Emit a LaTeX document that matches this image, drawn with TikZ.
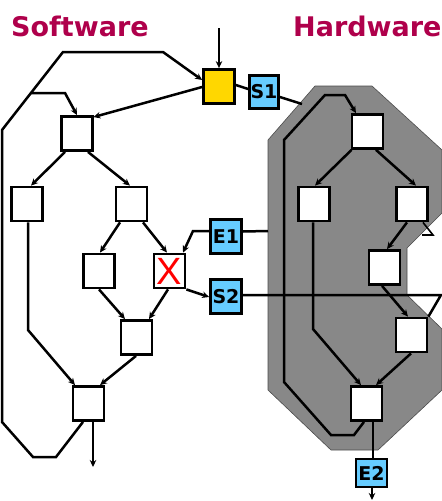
\documentclass[tikz,border=0pt]{standalone}
\usepackage{fontspec}
\setmainfont{DejaVu Sans}
\newfontfamily\xfont{Liberation Sans}
\usetikzlibrary{arrows.meta}
\definecolor{titlered}{RGB}{175,0,75}
\definecolor{boxblue}{RGB}{102,204,255}
\definecolor{boxyellow}{RGB}{255,215,0}
\definecolor{hwgray}{RGB}{136,136,136}
\tikzset{
  blk/.style={draw=black, line width=2.8pt, fill=white, inner sep=0pt, minimum width=31pt, minimum height=34pt},
  sig/.style={blk, fill=boxblue, font=\bfseries\fontsize{19}{20}\selectfont},
  conn/.style={line width=2.5pt, line join=miter},
  arr/.style={conn, -{Stealth[length=7pt,width=6.5pt]}},
  ttl/.style={text=titlered, font=\bfseries\fontsize{27}{30}\selectfont, inner sep=0pt, anchor=base west}
}
\begin{document}
\begin{tikzpicture}[x=1pt,y=-1pt]
\useasboundingbox (0,0) rectangle (442,501);
% hardware region
\path[fill=hwgray, draw=black!70, line width=0.6pt]
 (315,86) -- (372,86) -- (442,150) -- (442,213) -- (407,248) -- (407,295) -- (442,329)
 -- (442,390) -- (378,450) -- (331,450) -- (268,390) -- (268,140) -- cycle;
% titles
\node[ttl] (tsw) at (11,36.5) {Software};
\node[ttl] (thw) at (293,36.5) {Hardware};
% boxes
\node[blk, fill=boxyellow] (Y) at (219,86.5) {};
\node[sig, minimum width=29pt, minimum height=33pt] (S1) at (264,92) {S1};
\node[blk] (A) at (77,133.5) {};
\node[blk] (B1) at (27,204) {};
\node[blk] (B2) at (131.5,204) {};
\node[blk] (C1) at (99,271) {};
\node[blk, text=red, font=\xfont\fontsize{38}{38}\selectfont] (X) at (169.5,271) {X};
\node[sig] (E1) at (226,236.5) {E1};
\node[sig] (S2) at (226,296.5) {S2};
\node[blk] (D) at (136.5,337.5) {};
\node[blk] (F) at (88.5,403.5) {};
\node[blk] (H1) at (367.5,131.5) {};
\node[blk] (H2) at (314,204) {};
\node[blk] (H3) at (412,204) {};
\node[blk] (H4) at (384.5,267.5) {};
\node[blk] (H5) at (411.5,335) {};
\node[blk] (H6) at (366.5,403.5) {};
\node[sig, minimum height=28pt] (E2) at (371.5,473) {E2};
% free ends
\coordinate (yin) at (219,28);
\coordinate (s1end) at (302,104);
\coordinate (e1end) at (268,231);
\coordinate (fout) at (93,467);
\coordinate (e2out) at (372,500);
% software connectors
\draw[arr] (yin) -- (Y.north);
\draw[conn] ([yshift=1.5pt]Y.east) -- ([yshift=3pt]S1.west);
\draw[conn] ([yshift=-5pt]S1.east) -- (s1end);
\draw[arr] ([yshift=-0.5pt]Y.west) -- ([xshift=-0.5pt,yshift=-2pt]A.north east);
\draw[arr] ([xshift=-5.5pt]F.south) -- (56,457) -- (33,457) -- (2,422) -- (2,130) -- (63,52) -- (163,52) -- ([yshift=6.5pt]Y.west);
\draw[arr] (31,93) -- (65,93) -- (A.north);
\draw[arr] ([xshift=-12pt]A.south) -- ([xshift=4pt]B1.north);
\draw[arr] ([xshift=11pt]A.south) -- ([xshift=-1.5pt]B2.north);
\draw[arr] ([xshift=-11.5pt]B2.south) -- ([xshift=1pt]C1.north);
\draw[arr] ([xshift=11.5pt]B2.south) -- ([xshift=-2.5pt]X.north);
\draw[arr] ([yshift=5.5pt]E1.west) -- (193,231) -- ([xshift=13.5pt]X.north);
\draw[conn] ([yshift=5pt]E1.east) -- (e1end);
\draw[arr] (X.south east) -- ([yshift=-0.5pt]S2.west);
\draw[conn] ([yshift=1.5pt]S2.east) -- (441,295) -- ([xshift=0pt]H5.north east);
\draw[arr] (C1.south) -- ([xshift=-11.5pt]D.north);
\draw[arr] ([xshift=-1.5pt]X.south) -- ([xshift=12.5pt]D.north);
\draw[arr] ([xshift=-0.5pt]D.south) -- ([xshift=11.5pt]F.north);
\draw[arr] ([xshift=1pt]B1.south) -- (28,330) -- ([xshift=-13.5pt]F.north);
\draw[arr] ([xshift=4.5pt]F.south) -- (fout);
% hardware connectors
\draw[arr] ([xshift=-2.5pt]H6.south) -- (354,435) -- (331,435) -- (284,382) -- (284,140) -- (325,95) -- (345,95) -- ([xshift=-11.5pt]H1.north);
\draw[arr] ([xshift=-16pt]H1.south) -- ([xshift=1pt]H2.north);
\draw[arr] ([xshift=8.5pt]H1.south) -- ([xshift=4pt]H3.north);
\draw[arr] ([xshift=-5pt]H3.south) -- ([xshift=2.5pt]H4.north);
\draw[arr] ([xshift=-2.5pt]H4.south) -- ([xshift=-3.5pt]H5.north);
\draw[arr] ([xshift=-1pt]H2.south) -- (313,329) -- ([xshift=-5.5pt]H6.north);
\draw[arr] ([xshift=-0.5pt]H5.south) -- ([xshift=9.5pt]H6.north);
\draw[conn] ([xshift=6.5pt]H6.south) -- ([xshift=1.5pt]E2.north);
\draw[arr] ([xshift=0.5pt]E2.south) -- (e2out);
\draw[conn, line width=1.6pt] ([xshift=11pt]H3.south) -- (433,235) -- (422,235);
\end{tikzpicture}
\end{document}
